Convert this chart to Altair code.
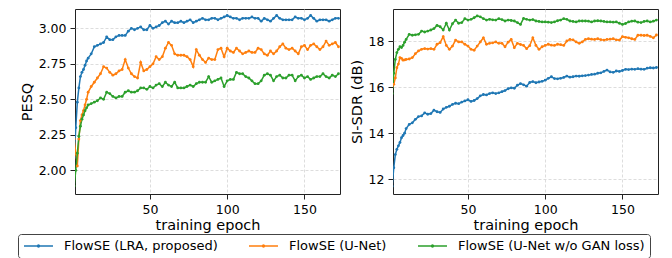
import altair as alt
import pandas as pd

epochs = list(range(1, 11)) + list(range(12, 173, 2))
names = ["FlowSE (LRA, proposed)", "FlowSE (U-Net)", "FlowSE (U-Net w/o GAN loss)"]
colors = ["#1f77b4", "#ff7f0e", "#2ca02c"]

pesq_lra = [2.09, 2.30, 2.48, 2.58, 2.66, 2.69, 2.71, 2.74, 2.77, 2.79,
            2.82, 2.87, 2.88, 2.89, 2.90, 2.94, 2.92, 2.92, 2.94, 2.95,
            2.95, 2.95, 2.98, 3.00, 2.99, 3.00, 3.01, 2.99, 2.99, 3.02,
            3.00, 3.01, 3.02, 3.04, 3.05, 3.03, 3.05, 3.04, 3.04, 3.05,
            3.04, 3.05, 3.06, 3.04, 3.05, 3.06, 3.07, 3.06, 3.06, 3.07,
            3.07, 3.06, 3.07, 3.08, 3.09, 3.08, 3.07, 3.07, 3.06, 3.07,
            3.07, 3.07, 3.08, 3.07, 3.07, 3.05, 3.07, 3.06, 3.05, 3.07,
            3.09, 3.07, 3.06, 3.06, 3.06, 3.06, 3.08, 3.07, 3.07, 3.06,
            3.07, 3.09, 3.07, 3.05, 3.06, 3.06, 3.06, 3.05, 3.06, 3.07,
            3.07]
pesq_unet = [2.22, 2.12, 2.03, 2.22, 2.35, 2.39, 2.42, 2.46, 2.50, 2.55,
             2.59, 2.62, 2.65, 2.68, 2.73, 2.72, 2.69, 2.67, 2.68, 2.70,
             2.71, 2.78, 2.72, 2.68, 2.66, 2.65, 2.76, 2.70, 2.71, 2.73,
             2.75, 2.80, 2.78, 2.80, 2.86, 2.90, 2.88, 2.82, 2.81, 2.81,
             2.81, 2.80, 2.78, 2.73, 2.85, 2.81, 2.78, 2.76, 2.79, 2.78,
             2.78, 2.85, 2.86, 2.80, 2.86, 2.84, 2.83, 2.86, 2.84, 2.82,
             2.83, 2.84, 2.83, 2.83, 2.86, 2.85, 2.82, 2.81, 2.84, 2.82,
             2.84, 2.87, 2.89, 2.86, 2.85, 2.86, 2.84, 2.82, 2.87, 2.88,
             2.85, 2.88, 2.89, 2.87, 2.85, 2.87, 2.91, 2.88, 2.89, 2.90,
             2.87]
pesq_nogan = [1.89, 2.00, 2.12, 2.24, 2.31, 2.36, 2.39, 2.42, 2.44, 2.46,
              2.47, 2.48, 2.49, 2.51, 2.50, 2.55, 2.54, 2.52, 2.51, 2.52,
              2.52, 2.55, 2.56, 2.55, 2.55, 2.56, 2.58, 2.58, 2.57, 2.59,
              2.58, 2.60, 2.61, 2.59, 2.62, 2.60, 2.59, 2.62, 2.58, 2.58,
              2.58, 2.59, 2.60, 2.59, 2.61, 2.62, 2.62, 2.62, 2.66, 2.62,
              2.63, 2.64, 2.65, 2.59, 2.63, 2.64, 2.64, 2.69, 2.68, 2.68,
              2.66, 2.65, 2.63, 2.61, 2.61, 2.63, 2.67, 2.68, 2.67, 2.63,
              2.66, 2.67, 2.65, 2.65, 2.67, 2.67, 2.63, 2.66, 2.67, 2.65,
              2.66, 2.64, 2.65, 2.66, 2.66, 2.68, 2.66, 2.65, 2.67, 2.66,
              2.68]

sdr_lra = [11.70, 12.50, 13.07, 13.30, 13.45, 13.60, 13.80, 13.90, 14.00, 14.20,
           14.38, 14.45, 14.60, 14.72, 14.75, 14.88, 14.82, 14.85, 15.00, 14.93,
           14.90, 15.05, 15.12, 15.17, 15.25, 15.30, 15.28, 15.35, 15.40, 15.45,
           15.38, 15.42, 15.50, 15.62, 15.68, 15.66, 15.72, 15.75, 15.72, 15.75,
           15.80, 15.85, 15.93, 15.97, 15.95, 16.08, 16.15, 16.10, 16.04, 16.20,
           16.24, 16.19, 16.22, 16.25, 16.30, 16.38, 16.45, 16.37, 16.36, 16.38,
           16.42, 16.48, 16.43, 16.45, 16.48, 16.47, 16.49, 16.50, 16.52, 16.55,
           16.56, 16.60, 16.62, 16.68, 16.74, 16.66, 16.64, 16.70, 16.68, 16.72,
           16.77, 16.76, 16.78, 16.77, 16.80, 16.78, 16.77, 16.82, 16.84, 16.83,
           16.85]
sdr_unet = [16.04, 16.12, 16.40, 16.84, 17.00, 17.28, 17.25, 17.17, 17.18, 17.20,
            17.22, 17.28, 17.45, 17.57, 17.64, 17.67, 17.65, 17.67, 17.64, 17.86,
            17.93, 18.19, 17.81, 17.64, 17.78, 18.04, 17.96, 17.96, 17.86, 17.78,
            17.64, 17.60, 17.78, 17.96, 18.14, 17.86, 17.90, 17.92, 17.96, 17.90,
            17.90, 17.75, 17.95, 18.07, 17.71, 17.90, 17.85, 17.81, 17.67, 17.80,
            18.14, 17.81, 17.64, 17.75, 17.81, 17.86, 17.82, 17.81, 17.86, 17.84,
            17.81, 18.00, 18.07, 18.05, 17.96, 17.90, 17.96, 18.07, 18.10, 18.08,
            18.07, 18.10, 18.06, 18.04, 18.07, 18.08, 18.10, 18.05, 18.04, 18.19,
            18.16, 18.14, 18.10, 18.07, 18.25, 18.25, 18.24, 18.25, 18.20, 18.14,
            18.26]
sdr_nogan = [15.72, 16.60, 17.20, 17.50, 17.64, 17.75, 17.72, 17.81, 17.95, 18.07,
             18.29, 18.25, 18.27, 18.29, 18.43, 18.39, 18.43, 18.48, 18.54, 18.68,
             18.62, 18.48, 18.77, 18.48, 18.75, 18.91, 18.77, 18.80, 18.97, 18.91,
             18.94, 19.01, 19.09, 19.05, 18.97, 18.91, 18.94, 18.92, 18.91, 18.97,
             18.93, 18.87, 18.91, 18.89, 18.87, 18.80, 18.72, 18.98, 18.94, 18.91,
             18.93, 18.87, 18.85, 18.83, 18.83, 18.82, 18.80, 18.83, 18.88, 18.91,
             18.97, 18.94, 18.87, 18.85, 18.83, 18.87, 18.87, 18.87, 18.86, 18.83,
             18.87, 18.88, 18.87, 18.85, 18.83, 18.83, 18.82, 18.83, 18.77, 18.72,
             18.76, 18.83, 18.86, 18.87, 18.82, 18.80, 18.85, 18.87, 18.83, 18.86,
             18.91]

pesq_ticks = [2.00, 2.25, 2.50, 2.75, 3.00]
sdr_ticks = [12, 14, 16, 18]
epoch_ticks = [50, 100, 150]


def long_df(series_list):
    rows = []
    for name, vals in zip(names, series_list):
        for e, v in zip(epochs, vals):
            rows.append({"epoch": e, "value": v, "model": name})
    return pd.DataFrame(rows)


# line (29px) with a small dot in its middle, drawn from the left edge of a 12px symbol box
legend_symbol = "M-1,0L3.833,0M1.267,0a0.15,0.15 0 1,0 0.3,0a0.15,0.15 0 1,0 -0.3,0"

color = alt.Color(
    "model:N",
    scale=alt.Scale(domain=names, range=colors),
    legend=alt.Legend(
        title=None,
        orient="none",
        direction="horizontal",
        legendX=-57,
        legendY=225,
        symbolType=legend_symbol,
        symbolSize=144,
        symbolStrokeWidth=1.5,
        symbolFillColor="transparent",
        labelFontSize=13,
        labelOffset=27,
        labelLimit=400,
        columnPadding=28,
        padding=5,
        strokeColor="#444444",
        fillColor="white",
        cornerRadius=3,
    ),
)


def panel(df, ytitle, ydom, yticks, fmt):
    return (
        alt.Chart(df)
        .mark_line(point=alt.OverlayMarkDef(size=8, filled=True), strokeWidth=1.5, clip=True)
        .encode(
            x=alt.X("epoch:Q",
                    scale=alt.Scale(domain=[1.5, 173], nice=False, zero=False),
                    axis=alt.Axis(values=epoch_ticks, title="training epoch")),
            y=alt.Y("value:Q",
                    scale=alt.Scale(domain=ydom, nice=False, zero=False),
                    axis=alt.Axis(values=yticks, format=fmt, title=ytitle)),
            color=color,
            order="epoch:Q",
        )
        .properties(width=265, height=185)
    )


left = panel(long_df([pesq_lra, pesq_unet, pesq_nogan]), "PESQ", [1.833, 3.136], pesq_ticks, ".2f")
right = panel(long_df([sdr_lra, sdr_unet, sdr_nogan]), "SI-SDR (dB)", [11.36, 19.39], sdr_ticks, "d")

chart = (
    alt.hconcat(left, right, spacing=7)
    .properties(padding={"left": 9, "top": 0, "right": 0, "bottom": 0})
    .configure(font="DejaVu Sans")
    .configure_view(stroke="#222222", strokeWidth=1)
    .configure_axis(
        domain=False,
        grid=True,
        gridColor="#d4d4d4",
        gridDash=[3, 2],
        gridWidth=0.8,
        tickColor="#222222",
        tickSize=5,
        labelPadding=4,
        labelFontSize=12.5,
        labelColor="black",
        titleFontSize=14.5,
        titleFontWeight="normal",
        titleColor="black",
        titlePadding=4,
    )
    .configure_axisX(titlePadding=3)
    .configure_legend(labelColor="black")
)

chart.save("out.html", embed_options={"renderer": "svg", "actions": False})
